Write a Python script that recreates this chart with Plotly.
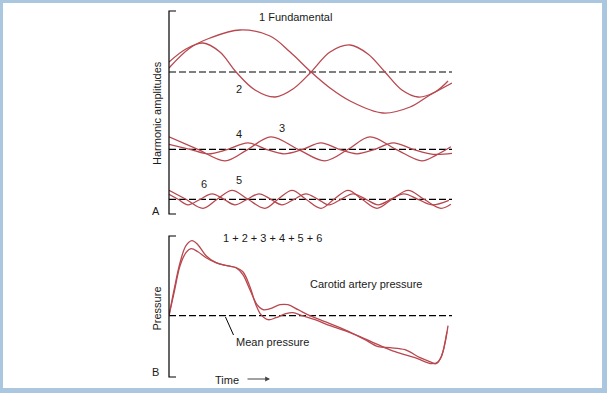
import plotly.graph_objects as go

# ---------------- data (time in % of cardiac cycle, amplitudes in arbitrary units) -------------
fund_t = [0, 7.4, 14.5, 25.1, 35.7, 42.8, 50.2, 56.9, 64.0, 75.6, 85.2, 92.2, 100]
fund_v = [4, 24, 34, 42, 36, 20, 0, -16, -29, -41, -35, -23, -11]

h2_t = [0, 6.0, 12.0, 18.0, 23.7, 30.4, 37.5, 43.8, 50.2, 56.9, 64.0, 70.3, 76.3, 82.3, 88.0, 94.0, 98.6]
h2_v = [10, 23, 29, 20, 0, -18, -25, -17, 0, 20, 27, 18, 0, -18, -25, -20, -9]

h3_t = [0, 10.2, 19.8, 27.9, 36.0, 45.6, 55.1, 63.3, 71.0, 80.2, 89.4, 94.3, 99.6]
h3_v = [12.5, 0, -11.5, 0, 12.5, 0, -11.5, 0, 12.5, 0, -11.5, -6, 2.5]

h4_t = [0, 7.4, 13.8, 20.8, 27.9, 34.3, 40.6, 47.3, 53.7, 60.1, 66.4, 72.8, 79.2, 86.2, 93.3, 100]
h4_v = [5, 0, -4.5, 0, 6.5, 0, -4.5, 0, 6.5, 0, -4.5, 0, 6.5, 0, -5, -4]

h5_t = [0, 6.0, 12.0, 17.0, 22.3, 27.9, 33.9, 38.5, 43.5, 48.4, 53.7, 58.3, 63.3, 68.2,
        73.5, 78.8, 84.5, 90.1, 96.1, 99.6]
h5_v = [9, 0, -9, 0, 9, 0, -9, 0, 9, 0, -9, 0, 9, 0, -9, 0, 9, 0, -9, -5]

h6_t = [0, 3.2, 6.7, 11.0, 15.2, 19.4, 23.3, 27.6, 31.8, 36.0, 39.9, 44.2, 48.4, 52.7,
        56.5, 60.8, 65.0, 69.6, 73.9, 78.4, 83.0, 88.0, 92.9, 98.9]
h6_v = [5, 0, -5.5, 0, 5.5, 0, -5.5, 0, 5.5, 0, -5.5, 0, 5.5, 0,
        -5.5, 0, 5.5, 0, -5.5, 0, 5.5, 0, -5.5, -1]

p1_t = [0, 1.8, 3.9, 6.0, 8.1, 10.2, 13.1, 16.6, 20.5, 23.7, 26.1, 28.6, 31.1, 33.2, 35.7,
        39.2, 42.0, 45.6, 49.8, 55.1, 60.4, 67.5, 73.9, 79.9, 86.9, 92.9, 95.1, 96.8, 98.6]
p1_v = [0, 26, 53, 70, 75, 71, 60, 53, 50, 48, 41, 26, 11, 6, 7,
        11, 11, 6, 0, -6, -12, -21, -29, -36, -42, -48, -46, -36, -10]

p2_t = [0, 1.8, 3.9, 6.0, 7.8, 10.2, 13.1, 16.6, 20.5, 23.7, 26.1, 28.6, 30.7, 32.5, 35.0,
        37.8, 41.3, 43.8, 47.0, 51.6, 56.9, 64.0, 69.3, 73.9, 78.1, 83.4, 88.7, 92.2, 94.3,
        96.1, 97.5, 98.2]
p2_v = [0, 23, 50, 63, 67, 64, 58, 53, 50, 48, 44, 29, 11, 1, -4,
        -2, 2, 3, 0, -4, -10, -17, -24, -31, -32, -34, -42, -46, -48,
        -42, -27, -16]

labels_A = ["1 Fundamental", "2", "3", "4", "5", "6"]
label_B = "1 + 2 + 3 + 4 + 5 + 6"

# ---------------- layout helpers -------------
W, H = 607, 393
RED = "#b8484f"
INK = "#1a1a1a"
FONT = "Arial, Liberation Sans, sans-serif"


def fx(x):
    return x / W


def fy(y):
    return 1 - y / H


X0, X1 = 169, 452
# rows: (top px, bottom px, baseline px)
rows = [(22, 122, 72), (129.3, 169.3, 149.3), (186.3, 212.3, 199.3), (230.7, 375.7, 315.7)]

fig = go.Figure()

series = [
    (1, fund_t, fund_v), (1, h2_t, h2_v),
    (2, h3_t, h3_v), (2, h4_t, h4_v),
    (3, h5_t, h5_v), (3, h6_t, h6_v),
    (4, p1_t, p1_v), (4, p2_t, p2_v),
]

for r in range(1, 5):
    sfx = "" if r == 1 else str(r)
    fig.add_trace(go.Scatter(x=[0, 100], y=[0, 0], mode="lines",
                             line=dict(color="black", width=1.2, dash="7px,3px"),
                             xaxis="x" + sfx, yaxis="y" + sfx, hoverinfo="skip"))

for r, t, v in series:
    sfx = "" if r == 1 else str(r)
    fig.add_trace(go.Scatter(x=t, y=v, mode="lines",
                             line=dict(color=RED, width=1.3, shape="spline", smoothing=1.0),
                             xaxis="x" + sfx, yaxis="y" + sfx, hoverinfo="skip"))

layout = dict(
    width=W, height=H,
    margin=dict(l=0, r=0, t=0, b=0),
    paper_bgcolor="#abc7e0",
    plot_bgcolor="rgba(0,0,0,0)",
    showlegend=False,
    hovermode=False,
)
for i, (top, bot, base) in enumerate(rows, start=1):
    sfx = "" if i == 1 else str(i)
    layout["xaxis" + sfx] = dict(domain=[fx(X0), fx(X1)], range=[0, 100], visible=False,
                                 anchor="y" + sfx, fixedrange=True)
    layout["yaxis" + sfx] = dict(domain=[fy(bot), fy(top)], range=[base - bot, base - top],
                                 visible=False, anchor="x" + sfx, fixedrange=True)
fig.update_layout(**layout)

shapes = [
    # white page inside the blue frame
    dict(type="rect", xref="paper", yref="paper", x0=fx(3), x1=fx(602), y0=fy(388), y1=fy(3),
         fillcolor="white", line=dict(width=0), layer="below"),
]


def bracket(ytop, ybot):
    return dict(type="path", xref="paper", yref="paper",
                path=f"M {fx(176)},{fy(ytop)} L {fx(169)},{fy(ytop)} L {fx(169)},{fy(ybot)} L {fx(176)},{fy(ybot)}",
                line=dict(color="black", width=1.2))


shapes.append(bracket(11, 214))
shapes.append(bracket(236, 377))
shapes.append(dict(type="line", xref="paper", yref="paper", x0=fx(225.5), y0=fy(317),
                   x1=fx(233.5), y1=fy(335), line=dict(color="black", width=1)))
fig.update_layout(shapes=shapes)


def note(text, x, y, size=11, angle=0):
    return dict(text=text, x=fx(x), y=fy(y), xref="paper", yref="paper", showarrow=False,
                xanchor="center", yanchor="middle", textangle=angle,
                font=dict(family=FONT, size=size, color=INK))


anns = [
    note(labels_A[0], 295, 17),
    note(labels_A[1], 239.3, 88.5),
    note(labels_A[2], 281.5, 128),
    note(labels_A[3], 239.3, 133.5),
    note(labels_A[4], 239.3, 180),
    note(labels_A[5], 204, 184.5),
    note("Harmonic amplitudes", 156.5, 113.5, angle=-90),
    note("A", 155.6, 211),
    note(label_B, 272.5, 237.5),
    note("Carotid artery pressure", 366.8, 284),
    note("Mean pressure", 272.5, 342),
    note("Pressure", 156, 308.5, angle=-90),
    note("B", 155.6, 372),
    note("Time", 226.6, 379.5),
    dict(text="", x=fx(270), y=fy(379), xref="paper", yref="paper", showarrow=True,
         ax=-24, ay=0, arrowhead=2, arrowsize=0.8, arrowwidth=1.2, arrowcolor="#444"),
]
fig.update_layout(annotations=anns)

fig.write_html("out.html", config={"displayModeBar": False, "staticPlot": True},
               post_script="document.body.style.margin='0';document.body.style.overflow='hidden';")
